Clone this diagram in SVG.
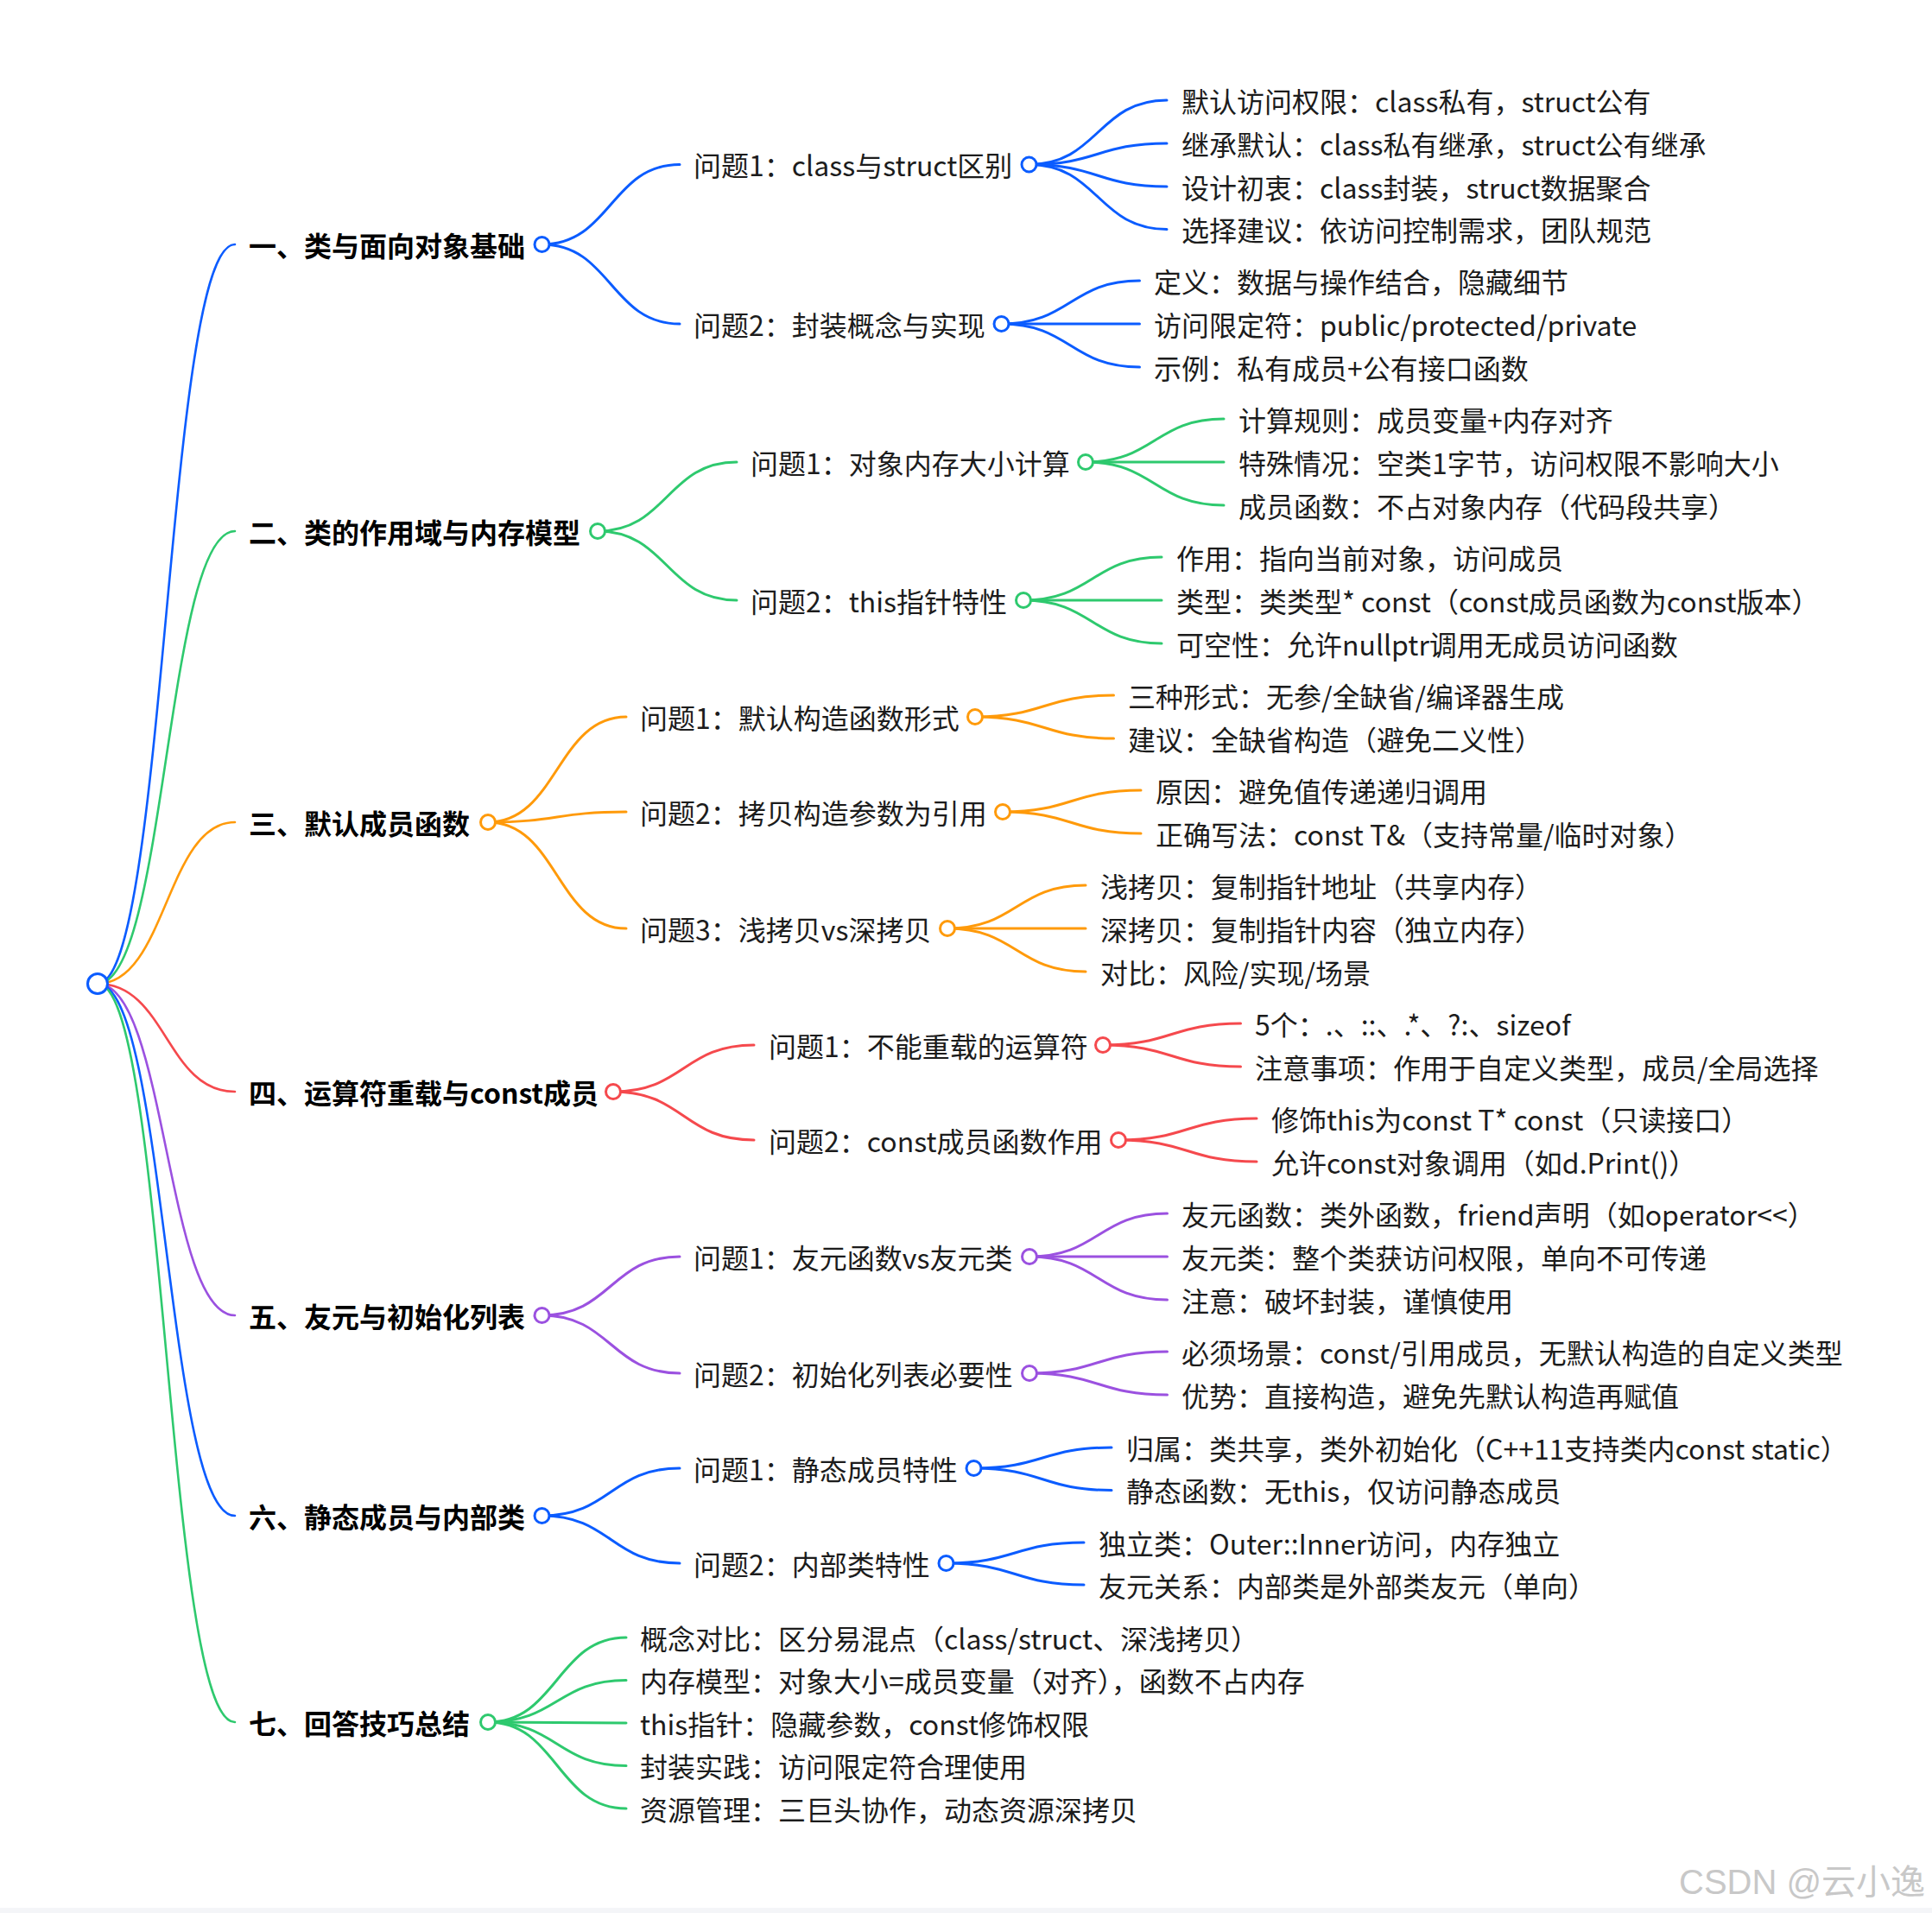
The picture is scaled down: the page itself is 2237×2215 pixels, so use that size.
<svg xmlns="http://www.w3.org/2000/svg" width="2237" height="2215" viewBox="0 0 2237 2215">
<style>
text{font-family:"Noto Sans CJK SC","Noto Sans",sans-serif;font-size:32px;fill:#1c1c1c}
.l1{font-weight:700;fill:#000}
.lk{fill:none;stroke-width:3;stroke-linecap:round}
.rk{fill:none;stroke-width:2.6;stroke-linecap:round}
.dot{fill:#fff;stroke-width:3}
.b{stroke:#0b5cff}.g{stroke:#2ec96e}.o{stroke:#ff9a0a}.r{stroke:#f5494d}.p{stroke:#9b51e0}
.wm{font-family:"Liberation Sans","Noto Sans CJK SC",sans-serif;font-size:40px;fill:#c8c8c8}
</style>
<rect x="0" y="0" width="2237" height="2215" fill="#fff"/>
<rect x="0" y="2209" width="2237" height="6" fill="#f4f5f8"/>
<g id="connectors">
<path class="rk b" d="M113 1139C192.5 1139 192.5 283 272 283"/>
<path class="rk g" d="M113 1139C192.5 1139 192.5 615 272 615"/>
<path class="rk o" d="M113 1139C192.5 1139 192.5 952 272 952"/>
<path class="rk r" d="M113 1139C192.5 1139 192.5 1264 272 1264"/>
<path class="rk p" d="M113 1139C192.5 1139 192.5 1523 272 1523"/>
<path class="rk b" d="M113 1139C192.5 1139 192.5 1755 272 1755"/>
<path class="rk g" d="M113 1139C192.5 1139 192.5 1994 272 1994"/>
<path class="lk b" d="M627.5 283C707.25 283 707.25 190.5 787 190.5"/>
<path class="lk b" d="M627.5 283C707.25 283 707.25 375 787 375"/>
<path class="lk b" d="M1191.5 190.5C1271.25 190.5 1271.25 116 1351 116"/>
<path class="lk b" d="M1191.5 190.5C1271.25 190.5 1271.25 166 1351 166"/>
<path class="lk b" d="M1191.5 190.5C1271.25 190.5 1271.25 216 1351 216"/>
<path class="lk b" d="M1191.5 190.5C1271.25 190.5 1271.25 265.5 1351 265.5"/>
<path class="lk b" d="M1159.5 375C1239.5 375 1239.5 325 1319.5 325"/>
<path class="lk b" d="M1159.5 375C1239.5 375 1239.5 375 1319.5 375"/>
<path class="lk b" d="M1159.5 375C1239.5 375 1239.5 425 1319.5 425"/>
<path class="lk g" d="M692 615C772.5 615 772.5 535 853 535"/>
<path class="lk g" d="M692 615C772.5 615 772.5 695 853 695"/>
<path class="lk g" d="M1257 535C1337 535 1337 485 1417 485"/>
<path class="lk g" d="M1257 535C1337 535 1337 535 1417 535"/>
<path class="lk g" d="M1257 535C1337 535 1337 585 1417 585"/>
<path class="lk g" d="M1185 695C1265 695 1265 645 1345 645"/>
<path class="lk g" d="M1185 695C1265 695 1265 695 1345 695"/>
<path class="lk g" d="M1185 695C1265 695 1265 745 1345 745"/>
<path class="lk o" d="M565 952C645 952 645 830 725 830"/>
<path class="lk o" d="M565 952C645 952 645 940 725 940"/>
<path class="lk o" d="M565 952C645 952 645 1075 725 1075"/>
<path class="lk o" d="M1129 830C1209.25 830 1209.25 805 1289.5 805"/>
<path class="lk o" d="M1129 830C1209.25 830 1209.25 855 1289.5 855"/>
<path class="lk o" d="M1161 940C1241 940 1241 915 1321 915"/>
<path class="lk o" d="M1161 940C1241 940 1241 965 1321 965"/>
<path class="lk o" d="M1097 1075C1177 1075 1177 1025 1257 1025"/>
<path class="lk o" d="M1097 1075C1177 1075 1177 1075 1257 1075"/>
<path class="lk o" d="M1097 1075C1177 1075 1177 1125 1257 1125"/>
<path class="lk r" d="M710 1264C791.5 1264 791.5 1210 873 1210"/>
<path class="lk r" d="M710 1264C791.5 1264 791.5 1320 873 1320"/>
<path class="lk r" d="M1277 1210C1356.75 1210 1356.75 1185 1436.5 1185"/>
<path class="lk r" d="M1277 1210C1356.75 1210 1356.75 1235 1436.5 1235"/>
<path class="lk r" d="M1295 1320C1375 1320 1375 1295 1455 1295"/>
<path class="lk r" d="M1295 1320C1375 1320 1375 1345 1455 1345"/>
<path class="lk p" d="M627.5 1523C707.25 1523 707.25 1455 787 1455"/>
<path class="lk p" d="M627.5 1523C707.25 1523 707.25 1590 787 1590"/>
<path class="lk p" d="M1192 1455C1271.75 1455 1271.75 1405 1351.5 1405"/>
<path class="lk p" d="M1192 1455C1271.75 1455 1271.75 1455 1351.5 1455"/>
<path class="lk p" d="M1192 1455C1271.75 1455 1271.75 1505 1351.5 1505"/>
<path class="lk p" d="M1192 1590C1271.75 1590 1271.75 1565 1351.5 1565"/>
<path class="lk p" d="M1192 1590C1271.75 1590 1271.75 1615 1351.5 1615"/>
<path class="lk b" d="M627.5 1755C707.25 1755 707.25 1700 787 1700"/>
<path class="lk b" d="M627.5 1755C707.25 1755 707.25 1810 787 1810"/>
<path class="lk b" d="M1127.5 1700C1207.25 1700 1207.25 1676 1287 1676"/>
<path class="lk b" d="M1127.5 1700C1207.25 1700 1207.25 1725.5 1287 1725.5"/>
<path class="lk b" d="M1095.5 1810C1175.25 1810 1175.25 1786 1255 1786"/>
<path class="lk b" d="M1095.5 1810C1175.25 1810 1175.25 1835 1255 1835"/>
<path class="lk g" d="M565 1994C645 1994 645 1896 725 1896"/>
<path class="lk g" d="M565 1994C645 1994 645 1945.5 725 1945.5"/>
<path class="lk g" d="M565 1994C645 1994 645 1995 725 1995"/>
<path class="lk g" d="M565 1994C645 1994 645 2044.5 725 2044.5"/>
<path class="lk g" d="M565 1994C645 1994 645 2094 725 2094"/>
</g>
<g id="root"><circle class="dot b" cx="113" cy="1139" r="11.5"/></g>
<g id="n1"><text class="l1" x="288" y="297">一、类与面向对象基础</text><circle class="dot b" cx="627.5" cy="283" r="8.5"/></g>
<g id="n1a"><text x="803" y="204">问题1：class与struct区别</text><circle class="dot b" cx="1191.5" cy="190.5" r="8.5"/></g>
<g id="n1a1"><text x="1368" y="129.5">默认访问权限：class私有，struct公有</text></g>
<g id="n1a2"><text x="1368" y="179.5">继承默认：class私有继承，struct公有继承</text></g>
<g id="n1a3"><text x="1368" y="229.5">设计初衷：class封装，struct数据聚合</text></g>
<g id="n1a4"><text x="1368" y="279">选择建议：依访问控制需求，团队规范</text></g>
<g id="n1b"><text x="803" y="388.5">问题2：封装概念与实现</text><circle class="dot b" cx="1159.5" cy="375" r="8.5"/></g>
<g id="n1b1"><text x="1336" y="338.5">定义：数据与操作结合，隐藏细节</text></g>
<g id="n1b2"><text x="1336" y="388.5">访问限定符：public/protected/private</text></g>
<g id="n1b3"><text x="1336" y="438.5">示例：私有成员+公有接口函数</text></g>
<g id="n2"><text class="l1" x="288" y="629">二、类的作用域与内存模型</text><circle class="dot g" cx="692" cy="615" r="8.5"/></g>
<g id="n2a"><text x="869" y="548.5">问题1：对象内存大小计算</text><circle class="dot g" cx="1257" cy="535" r="8.5"/></g>
<g id="n2a1"><text x="1434" y="498.5">计算规则：成员变量+内存对齐</text></g>
<g id="n2a2"><text x="1434" y="548.5">特殊情况：空类1字节，访问权限不影响大小</text></g>
<g id="n2a3"><text x="1434" y="598.5">成员函数：不占对象内存（代码段共享）</text></g>
<g id="n2b"><text x="869" y="708.5">问题2：this指针特性</text><circle class="dot g" cx="1185" cy="695" r="8.5"/></g>
<g id="n2b1"><text x="1362" y="658.5">作用：指向当前对象，访问成员</text></g>
<g id="n2b2"><text x="1362" y="708.5">类型：类类型* const（const成员函数为const版本）</text></g>
<g id="n2b3"><text x="1362" y="758.5">可空性：允许nullptr调用无成员访问函数</text></g>
<g id="n3"><text class="l1" x="288" y="966">三、默认成员函数</text><circle class="dot o" cx="565" cy="952" r="8.5"/></g>
<g id="n3a"><text x="741" y="843.5">问题1：默认构造函数形式</text><circle class="dot o" cx="1129" cy="830" r="8.5"/></g>
<g id="n3a1"><text x="1306" y="818.5">三种形式：无参/全缺省/编译器生成</text></g>
<g id="n3a2"><text x="1306" y="868.5">建议：全缺省构造（避免二义性）</text></g>
<g id="n3b"><text x="741" y="953.5">问题2：拷贝构造参数为引用</text><circle class="dot o" cx="1161" cy="940" r="8.5"/></g>
<g id="n3b1"><text x="1338" y="928.5">原因：避免值传递递归调用</text></g>
<g id="n3b2"><text x="1338" y="978.5">正确写法：const T&amp;（支持常量/临时对象）</text></g>
<g id="n3c"><text x="741" y="1088.5">问题3：浅拷贝vs深拷贝</text><circle class="dot o" cx="1097" cy="1075" r="8.5"/></g>
<g id="n3c1"><text x="1274" y="1038.5">浅拷贝：复制指针地址（共享内存）</text></g>
<g id="n3c2"><text x="1274" y="1088.5">深拷贝：复制指针内容（独立内存）</text></g>
<g id="n3c3"><text x="1274" y="1138.5">对比：风险/实现/场景</text></g>
<g id="n4"><text class="l1" x="288" y="1278">四、运算符重载与const成员</text><circle class="dot r" cx="710" cy="1264" r="8.5"/></g>
<g id="n4a"><text x="890" y="1223.5">问题1：不能重载的运算符</text><circle class="dot r" cx="1277" cy="1210" r="8.5"/></g>
<g id="n4a1"><text x="1453" y="1198.5">5个：.、::、.*、?:、sizeof</text></g>
<g id="n4a2"><text x="1453" y="1248.5">注意事项：作用于自定义类型，成员/全局选择</text></g>
<g id="n4b"><text x="890" y="1333.5">问题2：const成员函数作用</text><circle class="dot r" cx="1295" cy="1320" r="8.5"/></g>
<g id="n4b1"><text x="1472" y="1308.5">修饰this为const T* const（只读接口）</text></g>
<g id="n4b2"><text x="1472" y="1358.5">允许const对象调用（如d.Print()）</text></g>
<g id="n5"><text class="l1" x="288" y="1537">五、友元与初始化列表</text><circle class="dot p" cx="627.5" cy="1523" r="8.5"/></g>
<g id="n5a"><text x="803" y="1468.5">问题1：友元函数vs友元类</text><circle class="dot p" cx="1192" cy="1455" r="8.5"/></g>
<g id="n5a1"><text x="1368" y="1418.5">友元函数：类外函数，friend声明（如operator&lt;&lt;）</text></g>
<g id="n5a2"><text x="1368" y="1468.5">友元类：整个类获访问权限，单向不可传递</text></g>
<g id="n5a3"><text x="1368" y="1518.5">注意：破坏封装，谨慎使用</text></g>
<g id="n5b"><text x="803" y="1603.5">问题2：初始化列表必要性</text><circle class="dot p" cx="1192" cy="1590" r="8.5"/></g>
<g id="n5b1"><text x="1368" y="1578.5">必须场景：const/引用成员，无默认构造的自定义类型</text></g>
<g id="n5b2"><text x="1368" y="1628.5">优势：直接构造，避免先默认构造再赋值</text></g>
<g id="n6"><text class="l1" x="288" y="1769">六、静态成员与内部类</text><circle class="dot b" cx="627.5" cy="1755" r="8.5"/></g>
<g id="n6a"><text x="803" y="1713.5">问题1：静态成员特性</text><circle class="dot b" cx="1127.5" cy="1700" r="8.5"/></g>
<g id="n6a1"><text x="1304" y="1689.5">归属：类共享，类外初始化（C++11支持类内const static）</text></g>
<g id="n6a2"><text x="1304" y="1739">静态函数：无this，仅访问静态成员</text></g>
<g id="n6b"><text x="803" y="1823.5">问题2：内部类特性</text><circle class="dot b" cx="1095.5" cy="1810" r="8.5"/></g>
<g id="n6b1"><text x="1272" y="1799.5">独立类：Outer::Inner访问，内存独立</text></g>
<g id="n6b2"><text x="1272" y="1848.5">友元关系：内部类是外部类友元（单向）</text></g>
<g id="n7"><text class="l1" x="288" y="2008">七、回答技巧总结</text><circle class="dot g" cx="565" cy="1994" r="8.5"/></g>
<g id="n7a"><text x="741" y="1909.5">概念对比：区分易混点（class/struct、深浅拷贝）</text></g>
<g id="n7b"><text x="741" y="1959">内存模型：对象大小=成员变量（对齐），函数不占内存</text></g>
<g id="n7c"><text x="741" y="2008.5">this指针：隐藏参数，const修饰权限</text></g>
<g id="n7d"><text x="741" y="2058">封装实践：访问限定符合理使用</text></g>
<g id="n7e"><text x="741" y="2107.5">资源管理：三巨头协作，动态资源深拷贝</text></g>
<text class="wm" x="1944" y="2193">CSDN @云小逸</text>
</svg>
